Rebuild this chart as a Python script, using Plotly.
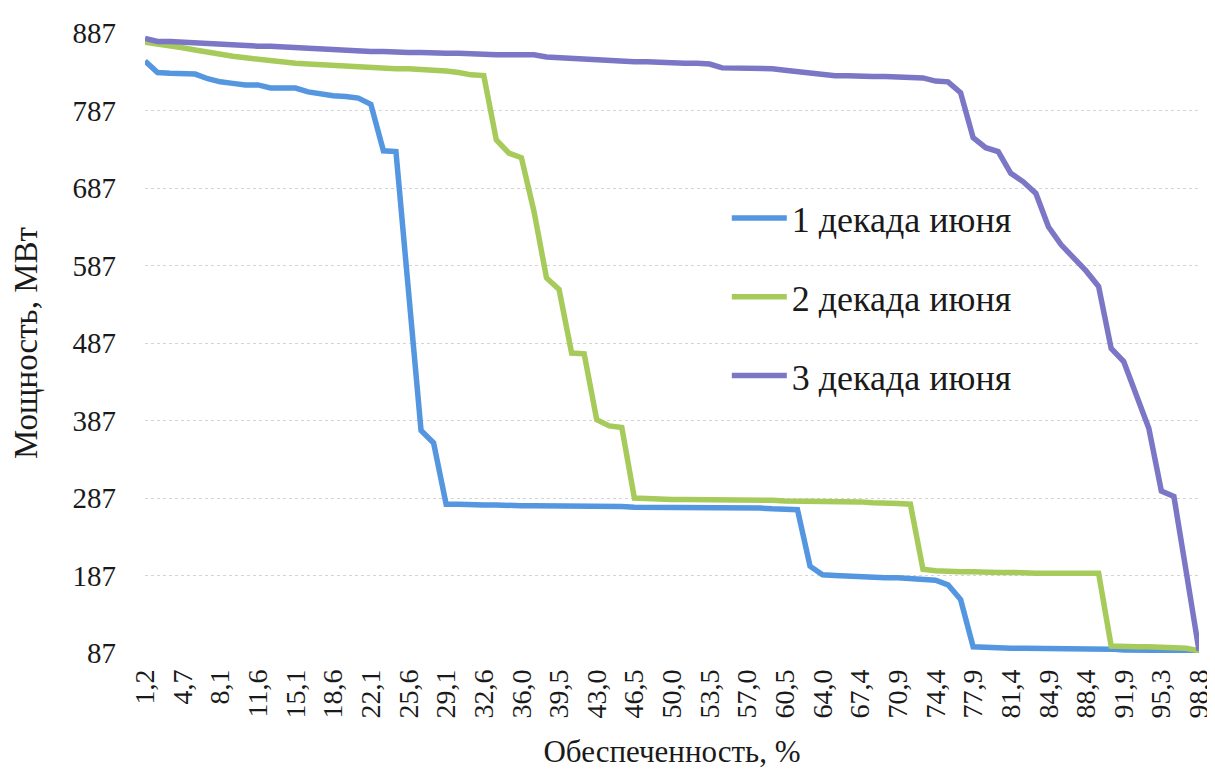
import plotly.graph_objects as go

categories = ["1,2", "2,3", "3,5", "4,7", "5,8", "7,0", "8,1", "9,3", "10,5", "11,6",
              "12,8", "14,0", "15,1", "16,3", "17,4", "18,6", "19,8", "20,9", "22,1", "23,3",
              "24,4", "25,6", "26,7", "27,9", "29,1", "30,2", "31,4", "32,6", "33,7", "34,9",
              "36,0", "37,2", "38,4", "39,5", "40,7", "41,9", "43,0", "44,2", "45,3", "46,5",
              "47,7", "48,8", "50,0", "51,2", "52,3", "53,5", "54,7", "55,8", "57,0", "58,1",
              "59,3", "60,5", "61,6", "62,8", "64,0", "65,1", "66,3", "67,4", "68,6", "69,8",
              "70,9", "72,1", "73,3", "74,4", "75,6", "76,7", "77,9", "79,1", "80,2", "81,4",
              "82,6", "83,7", "84,9", "86,0", "87,2", "88,4", "89,5", "90,7", "91,9", "93,0",
              "94,2", "95,3", "96,5", "97,7", "98,8"]

dec1 = [851, 836, 835, 834, 834, 828, 824, 822, 820, 820,
        816, 816, 816, 811, 808, 806, 805, 803, 795, 735,
        734, 545, 374, 358, 279, 279, 278, 278, 278, 277,
        277, 277, 277, 277, 276, 276, 276, 276, 276, 275,
        275, 275, 275, 275, 275, 274, 274, 274, 274, 274,
        273, 273, 272, 199, 188, 187, 186, 185, 185, 184,
        184, 183, 182, 181, 175, 156, 95, 94, 94, 93,
        93, 93, 93, 92, 92, 92, 92, 92, 91, 91,
        91, 91, 90, 90, 89]

dec2 = [875, 873, 871, 868, 865, 862, 860, 857, 855, 853,
        851, 850, 848, 847, 846, 846, 844, 843, 842, 842,
        841, 841, 840, 840, 838, 836, 833, 832, 749, 732,
        726, 657, 571, 556, 474, 473, 388, 380, 378, 287,
        286, 286, 285, 285, 285, 285, 284, 284, 284, 284,
        284, 283, 283, 283, 283, 283, 282, 282, 281, 281,
        280, 279, 195, 193, 192, 192, 192, 191, 191, 191,
        190, 190, 190, 190, 190, 190, 190, 96, 95, 95,
        95, 94, 94, 93, 90]

dec3 = [880, 876, 876, 875, 875, 874, 873, 872, 871, 870,
        870, 869, 868, 867, 866, 866, 864, 864, 863, 863,
        862, 862, 862, 861, 861, 861, 860, 860, 859, 859,
        859, 859, 856, 855, 854, 853, 852, 852, 851, 850,
        850, 849, 849, 848, 848, 847, 842, 842, 842, 842,
        841, 839, 837, 835, 833, 832, 832, 831, 831, 831,
        830, 830, 829, 825, 824, 810, 752, 739, 734, 706,
        695, 680, 637, 614, 597, 580, 560, 480, 463, 420,
        377, 296, 289, 190, 90]

series_names = ["1 декада июня", "2 декада июня", "3 декада июня"]
series_colors = ["#5497E0", "#A6CB5B", "#7C76C6"]
y_ticks = [87, 187, 287, 387, 487, 587, 687, 787, 887]
x_title = "Обеспеченность, %"
y_title = "Мощность, МВт"

FONT = "Times New Roman"
TXT = "#1a1a1a"

fig = go.Figure()
for i, (name, vals, col) in enumerate(zip(series_names, [dec1, dec2, dec3], series_colors)):
    fig.add_trace(go.Scatter(
        x=categories, y=vals, mode="lines", name=name,
        line=dict(color=col, width=5.5),
        legendgroup=f"g{i}",
    ))

fig.update_layout(
    width=1215, height=774,
    paper_bgcolor="white", plot_bgcolor="white",
    margin=dict(l=137, r=24, t=25, b=129),
    font=dict(family=FONT, size=29, color=TXT),
    showlegend=True,
    legend=dict(
        x=0.552, y=0.75, xanchor="left", yanchor="top",
        font=dict(family=FONT, size=36, color=TXT),
        bgcolor="rgba(0,0,0,0)", tracegroupgap=29,
        traceorder="grouped", itemwidth=55,
    ),
    xaxis=dict(
        type="category", range=[0, len(categories) - 1], automargin=False,
        tickmode="array", tickvals=categories[::3], ticktext=categories[::3],
        tickangle=-90, showgrid=False, zeroline=False, showline=False,
        ticks="", ticklabelstandoff=10, tickfont=dict(family=FONT, size=28, color=TXT),
        title=dict(text=x_title, font=dict(family=FONT, size=31, color=TXT), standoff=22),
    ),
    yaxis=dict(
        range=[87, 887], tickmode="array", tickvals=y_ticks, automargin=False,
        showgrid=True, gridcolor="#d4d4d4", griddash="dot", gridwidth=1,
        zeroline=False, showline=False, ticks="", ticklabelstandoff=28,
        tickfont=dict(family=FONT, size=29, color=TXT),
        title=dict(text=y_title, font=dict(family=FONT, size=33, color=TXT), standoff=28),
    ),
)

fig.write_html("out.html")
